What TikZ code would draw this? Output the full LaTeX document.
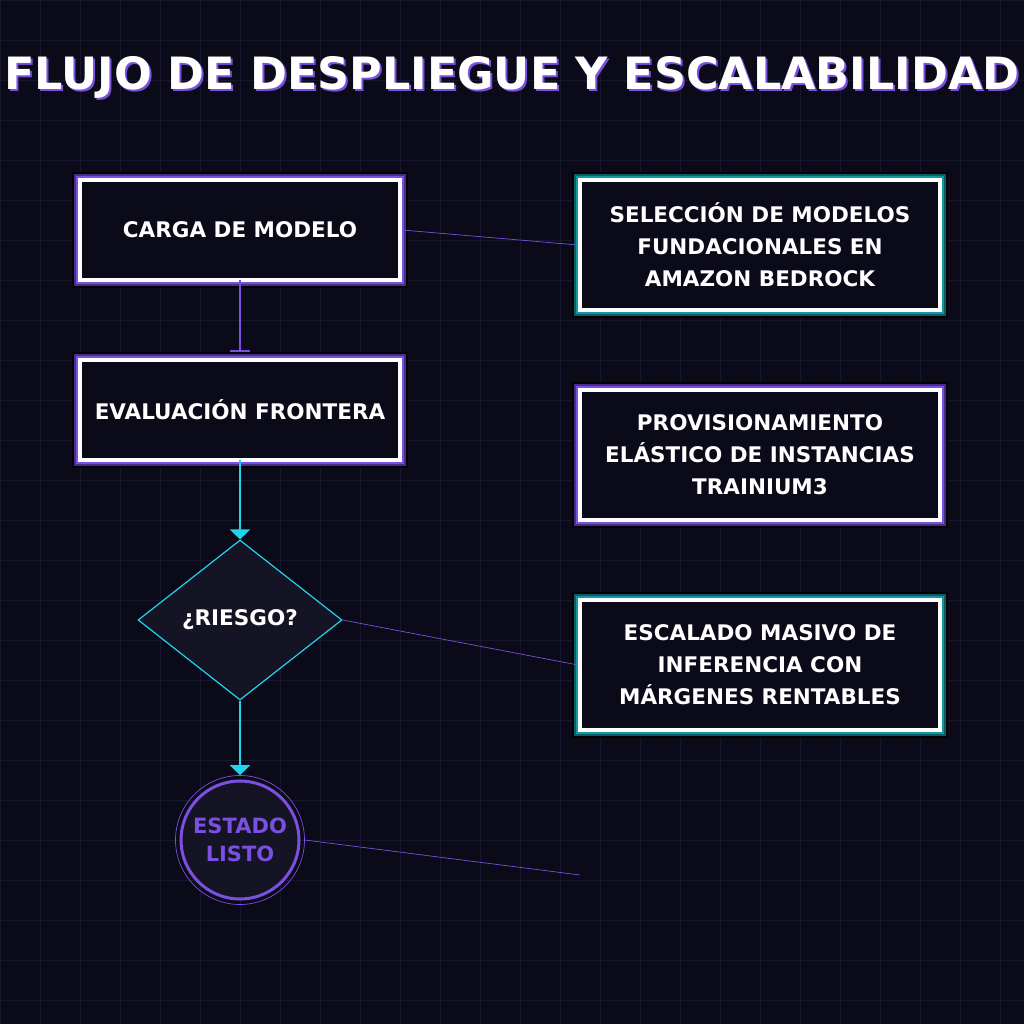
\documentclass[tikz,border=0pt]{standalone}
\usepackage{fontspec}
\setmainfont{DejaVu Sans}
\usetikzlibrary{arrows.meta,shapes.geometric}
\definecolor{bg}{HTML}{0A0A18}
\definecolor{gridc}{HTML}{16162C}
\definecolor{purp}{HTML}{7B4FE0}
\definecolor{purpd}{HTML}{4A2C8A}
\definecolor{teal}{HTML}{1397A6}
\definecolor{teald}{HTML}{0B5E68}
\definecolor{cyanc}{HTML}{22D3EE}
\definecolor{dfill}{HTML}{141424}
\begin{document}
\begin{tikzpicture}[x=1pt,y=-1pt,
  txt/.style={font=\bfseries\fontsize{21.5}{32}\selectfont,text=white,align=center},
  pbox/.style={draw=white,line width=4pt,fill=bg,minimum width=320pt,minimum height=100pt,inner sep=0pt,txt},
  link/.style={draw=purp,line width=0.7pt}]
\fill[bg] (0,0) rectangle (1024,1024);
\useasboundingbox (0,0) rectangle (1024,1024);
\foreach \i in {0,40,...,1000}{\draw[gridc,line width=0.8pt] (\i,0)--(\i,1024); \draw[gridc,line width=0.8pt] (0,\i)--(1024,\i);}
% title
\node[font=\bfseries\fontsize{44.5}{50}\selectfont,text=purp] (titles) at (514,79) {FLUJO DE DESPLIEGUE Y ESCALABILIDAD};
\node[font=\bfseries\fontsize{44.5}{50}\selectfont,text=white] (title) at (512,77) {FLUJO DE DESPLIEGUE Y ESCALABILIDAD};
% frames
\newcommand{\frm}[6]{% x1 y1 x2 y2 color colordark
  \fill[black] (#1-8,#2-8) rectangle (#3+8,#4+8);
  \fill[#6] (#1-6,#2-6) rectangle (#3+6,#4+6);
  \fill[#5] (#1-4,#2-4) rectangle (#3+4,#4+4);}
\frm{80}{180}{400}{280}{purp}{purpd}
\frm{80}{360}{400}{460}{purp}{purpd}
\frm{580}{180}{940}{310}{teal}{teald}
\frm{580}{390}{940}{520}{purp}{purpd}
\frm{580}{600}{940}{730}{teal}{teald}
\node[pbox] (a) at (240,230) {CARGA DE MODELO};
\node[pbox] (b) at (240,410) {EVALUACIÓN FRONTERA};
\node[pbox,minimum width=360pt,minimum height=130pt] (r1) at (760,245) {SELECCIÓN DE MODELOS\\FUNDACIONALES EN\\AMAZON BEDROCK};
\node[pbox,minimum width=360pt,minimum height=130pt] (r2) at (760,455) {PROVISIONAMIENTO\\ELÁSTICO DE INSTANCIAS\\TRAINIUM3};
\node[pbox,minimum width=360pt,minimum height=130pt] (r3) at (760,665) {ESCALADO MASIVO DE\\INFERENCIA CON\\MÁRGENES RENTABLES};
\node[diamond,draw=cyanc,line width=1.2pt,fill=dfill,minimum width=204pt,minimum height=160pt,inner sep=0pt,txt] (d) at (240,620) {¿RIESGO?};
\node[circle,draw=purp,line width=0.7pt,minimum size=129pt] (cc) at (240,840) {};
\node[circle,draw=purp,line width=3pt,fill=dfill,minimum size=118pt,inner sep=0pt,txt,text=purp,font=\bfseries\fontsize{21}{28}\selectfont] (c) at (240,840) {ESTADO\\LISTO};
\coordinate (e4) at (580,875);
\draw[link] (a.east) -- (r1.west);
\draw[link] (d.east) -- (r3.west);
\draw[link] (cc.east) -- (e4);
\draw[purp,line width=2.5pt,-{Bar[width=20pt,line width=2.5pt]}] ([yshift=2pt]a.south) -- ([yshift=6pt]b.north);
\draw[cyanc,line width=2.5pt,-{Triangle[width=20pt,length=10pt]}] ([yshift=2pt]b.south) -- (d.north);
\draw[cyanc,line width=2.5pt,-{Triangle[width=20pt,length=10pt]}] (d.south) -- (cc.north);
\end{tikzpicture}
\end{document}
